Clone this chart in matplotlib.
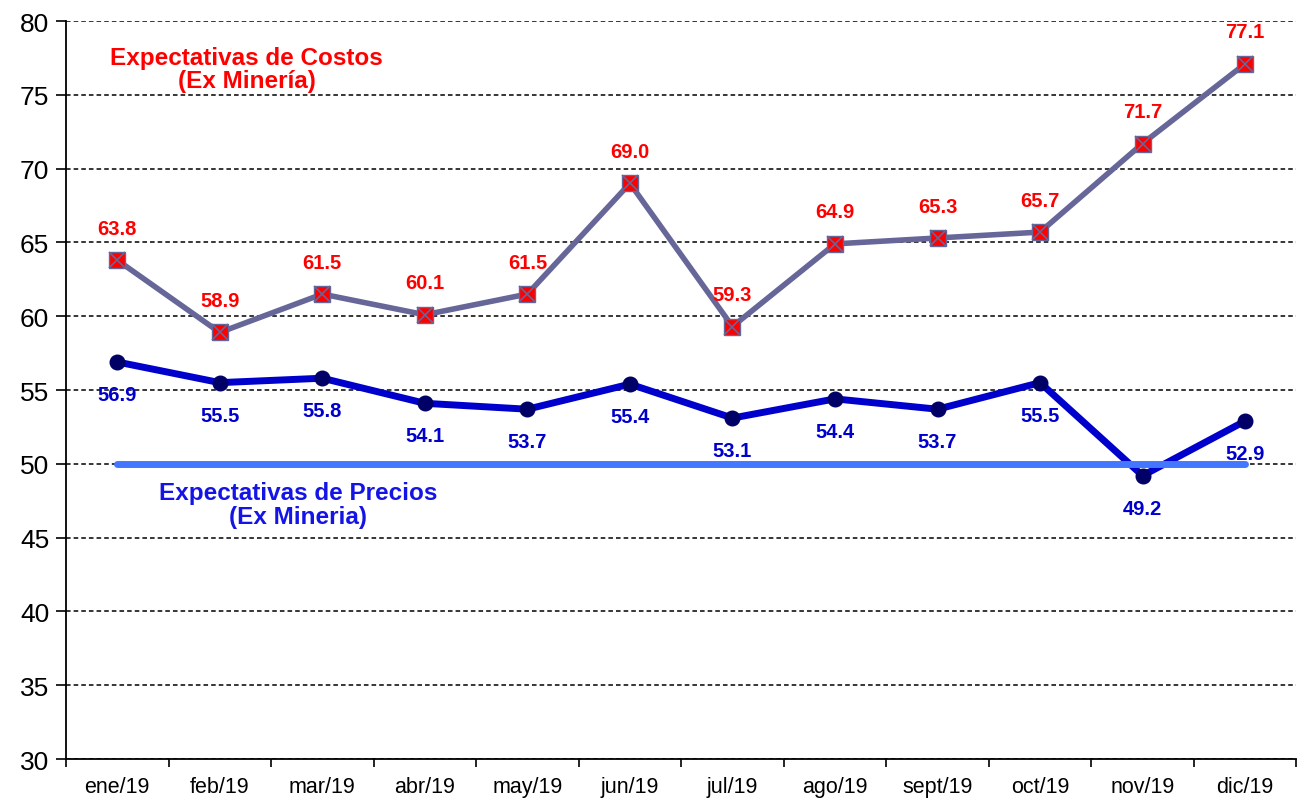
import matplotlib
matplotlib.use("Agg")
import matplotlib.pyplot as plt
from matplotlib.ticker import FixedLocator, NullFormatter

months = ["ene/19", "feb/19", "mar/19", "abr/19", "may/19", "jun/19",
          "jul/19", "ago/19", "sept/19", "oct/19", "nov/19", "dic/19"]
costos = [63.8, 58.9, 61.5, 60.1, 61.5, 69.0, 59.3, 64.9, 65.3, 65.7, 71.7, 77.1]
precios = [56.9, 55.5, 55.8, 54.1, 53.7, 55.4, 53.1, 54.4, 53.7, 55.5, 49.2, 52.9]
neutral = [50] * 12
yticks = [30, 35, 40, 45, 50, 55, 60, 65, 70, 75, 80]

plt.rcParams['font.family'] = ['Liberation Sans', 'DejaVu Sans']

fig = plt.figure(figsize=(12.99, 8.03), dpi=100)
ax = fig.add_axes([0.0508, 0.0535, 0.9472, 0.9191])

x = list(range(len(months)))
cost_col = "#666699"
price_col = "#0000CC"

ax.plot(x, costos, color=cost_col, lw=4.0, zorder=3)
ax.plot(x, costos, ls='none', marker='s', ms=12, mfc='#FF0000', mec=cost_col, mew=1.0, zorder=4)
ax.plot(x, costos, ls='none', marker='x', ms=11, mec=cost_col, mew=1.2, zorder=5)

ax.plot(x, precios, color=price_col, lw=5, zorder=3)
ax.plot(x, precios, ls='none', marker='o', ms=10.5, mfc='#000066', mec='#000066', zorder=4)

ax.plot(x, neutral, color='#4477FF', lw=5, solid_capstyle='round', zorder=6)

for xi, v in zip(x, costos):
    ax.annotate(f"{v:.1f}", (xi, v), xytext=(0, 23), textcoords='offset points',
                ha='center', va='center', color='#FF0000', fontsize=14.5, fontweight='bold', zorder=7)
for xi, v in zip(x, precios):
    ax.annotate(f"{v:.1f}", (xi, v), xytext=(0, -23.5), textcoords='offset points',
                ha='center', va='center', color='#0000CC', fontsize=14.5, fontweight='bold', zorder=7)

ax.text(1.26, 76.75, "Expectativas de Costos\n(Ex Minería)", color='#FF0000', fontsize=17.5,
        fontweight='bold', ha='center', va='center', linespacing=0.95, zorder=7)
ax.text(1.76, 47.25, "Expectativas de Precios\n(Ex Mineria)", color='#1414E6', fontsize=17.5,
        fontweight='bold', ha='center', va='center', linespacing=1.1, zorder=7)

ax.set_xlim(-0.5, 11.5)
ax.set_ylim(30, 80)
ax.set_yticks(yticks)
ax.set_yticklabels([str(t) for t in yticks], fontsize=19)
ax.yaxis.grid(True, color='black', ls=(0, (3, 2)), lw=1.1)
ax.set_axisbelow(True)

ax.xaxis.set_major_locator(FixedLocator([i - 0.5 for i in range(13)]))
ax.xaxis.set_major_formatter(NullFormatter())
ax.xaxis.set_minor_locator(FixedLocator(x))
ax.set_xticklabels(months, minor=True, fontsize=15.5)
ax.tick_params(axis='x', which='minor', length=0, pad=12)
ax.tick_params(axis='x', which='major', length=6, width=1.2, direction='out')
ax.tick_params(axis='y', length=7, width=1.2, direction='out', pad=5)

for s in ['top', 'right']:
    ax.spines[s].set_visible(False)
for s in ['left', 'bottom']:
    ax.spines[s].set_linewidth(1.3)

fig.savefig("out.png", dpi=100)
